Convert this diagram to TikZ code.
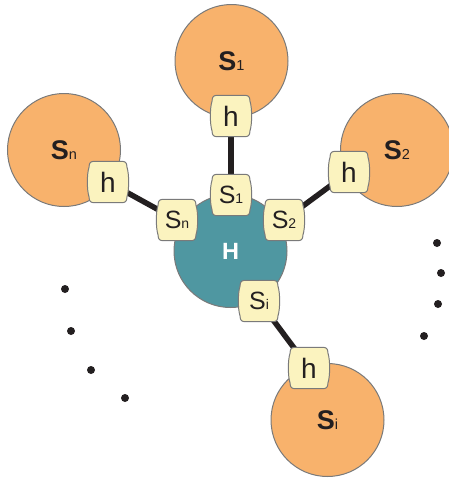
\documentclass[tikz,border=0pt]{standalone}
\usepackage{fontspec}
\setmainfont{Liberation Sans}
\usetikzlibrary{calc}
\pgfdeclarelayer{back}
\pgfdeclarelayer{mid}
\pgfdeclarelayer{portbg}
\pgfsetlayers{back,mid,portbg,main}
\definecolor{orangefill}{HTML}{F8B26C}
\definecolor{tealfill}{HTML}{4F97A1}
\definecolor{boxfill}{HTML}{FBF3BF}
\definecolor{edgegray}{HTML}{7A7A7A}
\definecolor{inkblack}{HTML}{231F20}
\newcommand{\bigS}[1]{{\fontsize{27}{27}\selectfont\bfseries S}{\fontsize{14.5}{14.5}\selectfont #1}}
\newcommand{\smallS}[1]{{\fontsize{25}{25}\selectfont S}{\fontsize{14}{14}\selectfont #1}}
\newcommand{\hlabel}{{\fontsize{28}{28}\selectfont h}}
\newcommand{\barrel}[1]{%
  \begin{pgfonlayer}{portbg}
  \draw[portshape]
    ($(#1.north west)+(6,0)$) -- ($(#1.north east)+(-6,0)$)
    .. controls ($(#1.north east)+(-1,0)$) and ($(#1.north east)+(0,1)$) .. ($(#1.north east)+(0.3,6)$)
    .. controls ($(#1.east)+(2.5,-8)$) and ($(#1.east)+(2.5,8)$) .. ($(#1.south east)+(0.3,-6)$)
    .. controls ($(#1.south east)+(0,-1)$) and ($(#1.south east)+(-1,0)$) .. ($(#1.south east)+(-6,0)$)
    -- ($(#1.south west)+(6,0)$)
    .. controls ($(#1.south west)+(1,0)$) and ($(#1.south west)+(0,-1)$) .. ($(#1.south west)+(-0.3,-6)$)
    .. controls ($(#1.west)+(-2.5,8)$) and ($(#1.west)+(-2.5,-8)$) .. ($(#1.north west)+(-0.3,6)$)
    .. controls ($(#1.north west)+(0,1)$) and ($(#1.north west)+(1,0)$) .. cycle;
  \end{pgfonlayer}}
\tikzset{
  sat/.style={circle, draw=edgegray, line width=1pt, fill=orangefill, minimum size=113pt, inner sep=0pt, text=inkblack},
  hub/.style={circle, draw=edgegray, line width=1pt, fill=tealfill, minimum size=113pt, inner sep=0pt, text=white},
  port/.style={minimum width=37pt, minimum height=41pt, inner sep=0pt, text=inkblack},
  portshape/.style={draw=edgegray, line width=1pt, fill=boxfill},
  link/.style={line width=5.5pt, draw=inkblack},
  dot/.style={circle, fill=inkblack, minimum size=8pt, inner sep=0pt}
}
\begin{document}
\begin{tikzpicture}[x=1pt,y=-1pt]
\useasboundingbox (0,0) rectangle (449,480);
\begin{pgfonlayer}{back}
\node[sat] (S1) at (231.5,61) {\bigS{1}};
\node[sat] (Sn) at (64,150) {\bigS{n}};
\node[sat] (S2) at (397,150) {\bigS{2}};
\node[sat] (Si) at (327.5,420) {\bigS{i}};
\node[hub] (H) at (230.5,251) {\fontsize{23.5}{23.5}\selectfont\bfseries H};
\end{pgfonlayer}
% ports on satellites
\node[port] (h1) at (231,116) {\hlabel};
\node[port] (hn) at (108,182) {\hlabel};
\node[port] (h2) at (349,172) {\hlabel};
\node[port] (hi) at (309,368) {\hlabel};
% ports on hub
\node[port] (s1) at (231,195) {\smallS{1}};
\node[port] (sn) at (177,220) {\smallS{n}};
\node[port] (s2) at (284,220) {\smallS{2}};
\node[port] (si) at (259,301) {\smallS{i}};
\barrel{h1}\barrel{hn}\barrel{h2}\barrel{hi}
\barrel{s1}\barrel{sn}\barrel{s2}\barrel{si}
\begin{pgfonlayer}{mid}
\draw[link] (s1.center) -- (h1.center);
\draw[link] (sn.center) -- (hn.center);
\draw[link] (s2.center) -- (h2.center);
\draw[link] (si.center) -- (hi.center);
\end{pgfonlayer}
% ellipsis dots
\node[dot] (dl1) at (65,289) {};
\node[dot] (dl2) at (71,331) {};
\node[dot] (dl3) at (91,370) {};
\node[dot] (dl4) at (125,398) {};
\node[dot] (dr1) at (437,243) {};
\node[dot] (dr2) at (441,273) {};
\node[dot] (dr3) at (438,304) {};
\node[dot] (dr4) at (424,336) {};
\end{tikzpicture}
\end{document}
